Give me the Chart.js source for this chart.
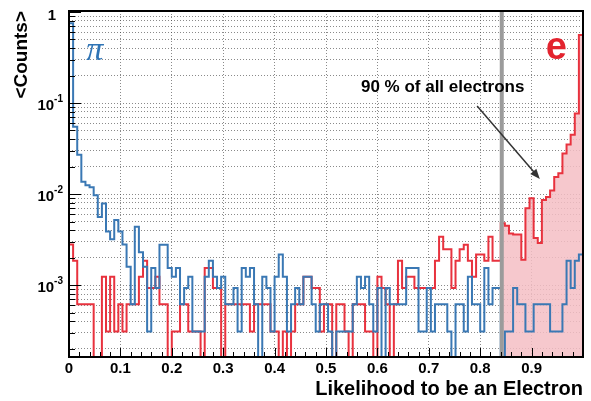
<!DOCTYPE html>
<html>
<head>
<meta charset="utf-8">
<script src="https://cdn.jsdelivr.net/npm/chart.js@4/dist/chart.umd.min.js"></script>
<style>
  html, body { margin: 0; padding: 0; background: #fff; }
</style>
</head>
<body>
<canvas id="likelihoodChart" width="591" height="401"></canvas>
<script>
// histogram binning
const binLow = 0;
const binHigh = 1;
const nBins = 125;
const cutValue = 0.84; // 90 % electron efficiency cut

// <Counts> per bin, pions (blue)
const pionCounts = [
  0.75, 0.055, 0.027, 0.0137, 0.0125, 0.0119, 0.0097, 0.0056, 0.0079, 0.0039,
  0.0032, 0.0052, 0.0039, 0.0028, 0.0016, 0.00062, 0.0044, 0.0023, 0.0016, 0.00031,
  0.00155, 0.00093, 0.00279, 0.00279, 0.00155, 0.00124, 0.00155, 0.00062, 0.00093, 0.00124,
  0.00031, 0.00031, 0.00031, 0.00124, 0.00186, 0.00124, 0.00093, 0.00124, 0.00062, 0.00062,
  0.00093, 0.00031, 0.00155, 0.00124, 0.00155, 0.00062, 0, 0.00124, 0.00093, 0.00031,
  0.00124, 0.00217, 0.00124, 0.00031, 0.00062, 0.00093, 0.00062, 0.00124, 0.00124, 0.00062,
  0.00031, 0.00062, 0.00062, 0.00031, 0, 0.00031, 0.00031, 0.00031, 0.00031, 0.00062,
  0.00124, 0.00093, 0.00124, 0.00062, 0.00031, 0.00093, 0, 0.00093, 0.00062, 0.00062,
  0.00062, 0.00062, 0.00155, 0.00155, 0.00155, 0.00031, 0.00031, 0.00093, 0.00031, 0.00062,
  0.00062, 0.00062, 0.00031, 0, 0.00062, 0.00062, 0.00031, 0.00124, 0.00062, 0.00062,
  0.00031, 0.00155, 0.00062, 0.00093, 0.00093, 0, 0.00031, 0.00031, 0.00093, 0.00062,
  0.00062, 0.00031, 0.00031, 0.00062, 0.00062, 0.00062, 0.00062, 0.00031, 0.00031, 0.00031,
  0.00062, 0.00186, 0.00093, 0.00186, 0.00217
];

// <Counts> per bin, electrons (red)
const electronCounts = [
  0.0028, 0.00186, 0.00062, 0.00062, 0.00062, 0.00062, 0, 0, 0.00124, 0.00031,
  0.00124, 0.00031, 0.00062, 0.00031, 0.00062, 0.00062, 0.00062, 0.00124, 0.00186, 0.00093,
  0.00093, 0.00124, 0.00062, 0.00062, 0, 0.00031, 0.00031, 0.00062, 0.00062, 0.00031,
  0.00031, 0.00031, 0, 0.00155, 0.00155, 0.00093, 0.00093, 0, 0.00062, 0.00062,
  0.00062, 0.00062, 0.00062, 0.00062, 0.00031, 0.00062, 0.00062, 0.00062, 0.00062, 0.00031,
  0.00031, 0, 0.00031, 0, 0.00031, 0.00062, 0.00062, 0.00124, 0.00124, 0.00093,
  0.00093, 0.00031, 0.00062, 0.00062, 0, 0.00062, 0.00062, 0.00031, 0, 0.00062,
  0.00062, 0.00062, 0.00031, 0.00031, 0, 0.00124, 0.00093, 0.00062, 0, 0.00062,
  0.00186, 0.00093, 0.00124, 0.00124, 0.00093, 0.00093, 0.00093, 0.00093, 0.00093, 0.00186,
  0.0034, 0.00248, 0.00248, 0.00093, 0.00186, 0.00248, 0.00279, 0.00186, 0.00124, 0.00217,
  0.00217, 0.00186, 0.0034, 0.00186, 0.00186, 0.0048, 0.0045, 0.0037, 0.0036, 0.0036,
  0.0019, 0.0070, 0.0090, 0.0033, 0.0029, 0.0086, 0.0093, 0.011, 0.0154, 0.017,
  0.028, 0.035, 0.045, 0.077, 0.56
];

// axis labels
const xTickLabels = ["0", "0.1", "0.2", "0.3", "0.4", "0.5", "0.6", "0.7", "0.8", "0.9"];
const yDecades = [1, 0.1, 0.01, 0.001];
const yDecadeExps = ["", "-1", "-2", "-3"];

const yMin = 1.63e-4;
const yMax = 1.025;
const emptyBin = 1e-6; // empty bins fall below the frame (log axis)
const binWidth = (binHigh - binLow) / nBins;

function histPoints(counts, firstBin) {
  const pts = [];
  for (let i = firstBin; i < counts.length; i++) {
    const y = counts[i] > 0 ? counts[i] : emptyBin;
    pts.push({ x: binLow + i * binWidth, y: y });
    pts.push({ x: binLow + (i + 1) * binWidth, y: y });
  }
  return pts;
}

const FONT = '"Liberation Sans", Arial, Helvetica, sans-serif';

const decorPlugin = {
  id: "decor",
  afterDatasetsDraw(chart) {
    const ctx = chart.ctx;
    const a = chart.chartArea;
    const xs = chart.scales.x;
    const ys = chart.scales.y;
    ctx.save();

    // cut line
    const xc = xs.getPixelForValue(cutValue);
    ctx.fillStyle = "#9b9b9b";
    ctx.fillRect(xc - 1, a.top, 4, a.bottom - a.top);

    // frame
    ctx.strokeStyle = "#000";
    ctx.lineWidth = 2;
    ctx.strokeRect(a.left, a.top, a.right - a.left, a.bottom - a.top);

    // x ticks (inside)
    ctx.lineWidth = 1;
    ctx.beginPath();
    for (let k = 0; k <= 50; k++) {
      const px = Math.round(xs.getPixelForValue(k * 0.02)) + 0.5;
      const len = k % 5 === 0 ? 9 : 5;
      ctx.moveTo(px, a.bottom);
      ctx.lineTo(px, a.bottom - len);
    }
    // y ticks (inside)
    ys.ticks.forEach(t => {
      const py = Math.round(ys.getPixelForValue(t.value)) + 0.5;
      const m = t.value / Math.pow(10, Math.floor(Math.log10(t.value) + 1e-9));
      const len = Math.abs(m - 1) < 1e-6 ? 12 : 6;
      ctx.moveTo(a.left, py);
      ctx.lineTo(a.left + len, py);
    });
    ctx.stroke();

    // x tick labels
    ctx.fillStyle = "#000";
    ctx.font = "bold 15px " + FONT;
    ctx.textAlign = "center";
    ctx.textBaseline = "middle";
    xTickLabels.forEach((lab, i) => {
      ctx.fillText(lab, xs.getPixelForValue(i * 0.1), a.bottom + 12);
    });

    // y tick labels
    yDecades.forEach((v, i) => {
      const py = ys.getPixelForValue(v);
      if (yDecadeExps[i] === "") {
        ctx.font = "bold 15px " + FONT;
        ctx.textAlign = "right";
        ctx.fillText("1", a.left - 13, py + 4);
      } else {
        ctx.font = "bold 10px " + FONT;
        ctx.textAlign = "right";
        ctx.fillText(yDecadeExps[i], a.left - 6, py - 4);
        const w = ctx.measureText(yDecadeExps[i]).width;
        ctx.font = "bold 15px " + FONT;
        ctx.fillText("10", a.left - 6 - w, py + 3);
      }
    });

    // axis titles
    ctx.font = "bold 20px " + FONT;
    ctx.textAlign = "right";
    ctx.textBaseline = "middle";
    ctx.fillText("Likelihood to be an Electron", a.right, a.bottom + 32);
    ctx.save();
    ctx.translate(22, a.top);
    ctx.rotate(-Math.PI / 2);
    ctx.textAlign = "right";
    ctx.font = "bold 19px " + FONT;
    ctx.fillText("<Counts>", 0, 0);
    ctx.restore();

    // particle labels
    ctx.textAlign = "center";
    ctx.fillStyle = "#2f74b5";
    ctx.font = "italic 34px \"Liberation Serif\", serif";
    ctx.fillText("\u03c0", xs.getPixelForValue(0.05), ys.getPixelForValue(0.37));
    ctx.fillStyle = "#e3242f";
    ctx.font = "bold 38px " + FONT;
    ctx.fillText("e", xs.getPixelForValue(0.948), ys.getPixelForValue(0.40));

    // annotation
    ctx.fillStyle = "#000";
    ctx.font = "bold 17px " + FONT;
    ctx.fillText("90 % of all electrons", xs.getPixelForValue(0.727), ys.getPixelForValue(0.15));
    const x0 = xs.getPixelForValue(0.794), y0 = ys.getPixelForValue(0.093);
    const x1 = xs.getPixelForValue(0.916), y1 = ys.getPixelForValue(0.0147);
    const ang = Math.atan2(y1 - y0, x1 - x0);
    ctx.strokeStyle = "#333";
    ctx.fillStyle = "#333";
    ctx.lineWidth = 1.5;
    ctx.beginPath();
    ctx.moveTo(x0, y0);
    ctx.lineTo(x1 - 8 * Math.cos(ang), y1 - 8 * Math.sin(ang));
    ctx.stroke();
    ctx.beginPath();
    ctx.moveTo(x1, y1);
    ctx.lineTo(x1 - 10 * Math.cos(ang) + 4 * Math.sin(ang), y1 - 10 * Math.sin(ang) - 4 * Math.cos(ang));
    ctx.lineTo(x1 - 10 * Math.cos(ang) - 4 * Math.sin(ang), y1 - 10 * Math.sin(ang) + 4 * Math.cos(ang));
    ctx.closePath();
    ctx.fill();

    ctx.restore();
  }
};

const gridStyle = { color: "rgba(60,60,60,0.6)", lineWidth: 1, drawTicks: false };

new Chart(document.getElementById("likelihoodChart").getContext("2d"), {
  type: "line",
  data: {
    datasets: [
      {
        label: "electrons above cut",
        data: histPoints(electronCounts, Math.round((cutValue - binLow) / binWidth)),
        fill: "start",
        backgroundColor: "rgba(244,190,196,0.85)",
        borderWidth: 0,
        pointRadius: 0,
        order: 3,
      },
      {
        label: "e",
        data: histPoints(electronCounts, 0),
        borderColor: "#e8323e",
        borderWidth: 2,
        pointRadius: 0,
        fill: false,
        order: 2,
      },
      {
        label: "\u03c0",
        data: histPoints(pionCounts, 0),
        borderColor: "#3a78b4",
        borderWidth: 2,
        pointRadius: 0,
        fill: false,
        order: 1,
      },
    ],
  },
  options: {
    responsive: false,
    animation: false,
    events: [],
    layout: { padding: { left: 69, right: 8, top: 11, bottom: 44 } },
    plugins: { legend: { display: false }, tooltip: { enabled: false } },
    scales: {
      x: {
        type: "linear",
        min: binLow,
        max: binHigh,
        ticks: { display: false, stepSize: 0.1 },
        grid: gridStyle,
        border: { display: false, dash: [1, 2] },
      },
      y: {
        type: "logarithmic",
        min: yMin,
        max: yMax,
        ticks: { display: false },
        afterBuildTicks: (scale) => {
          const t = [];
          for (let e = -4; e <= 0; e++) {
            for (let m = 1; m <= 9; m++) {
              const v = m * Math.pow(10, e);
              if (v >= scale.min && v <= scale.max) t.push({ value: v });
            }
          }
          scale.ticks = t;
        },
        grid: gridStyle,
        border: { display: false, dash: [1, 2] },
      },
    },
  },
  plugins: [decorPlugin],
});
</script>
</body>
</html>
